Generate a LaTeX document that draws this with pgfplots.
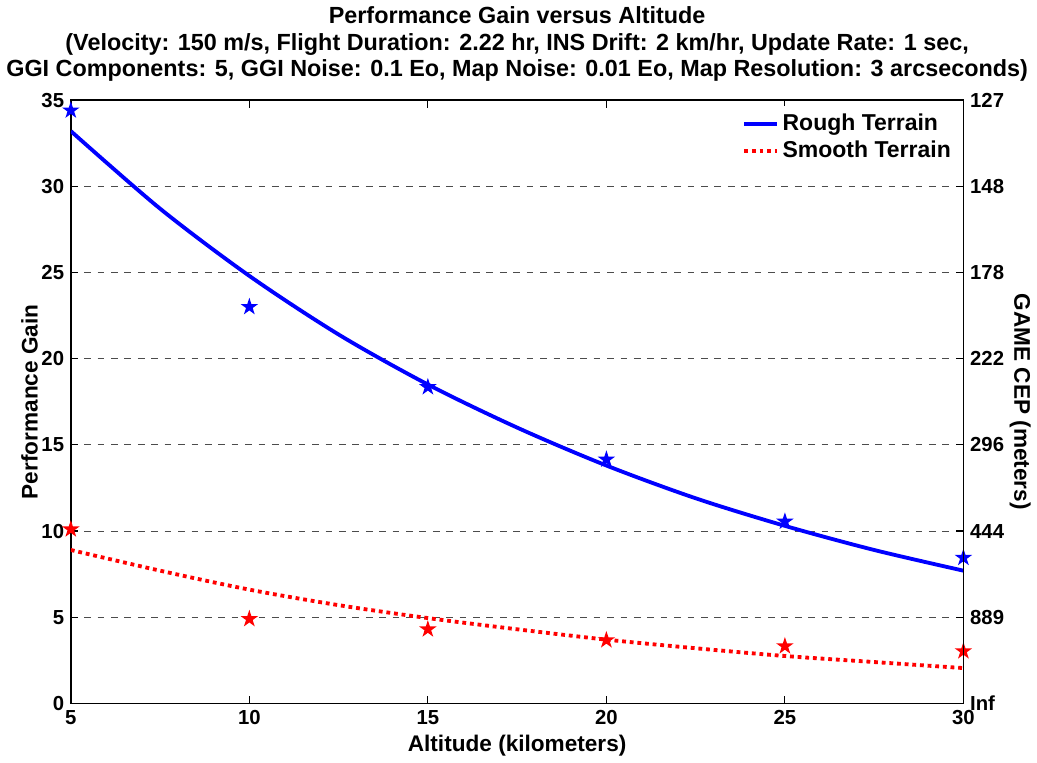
\documentclass[border=0pt]{standalone}
\usepackage{fontspec}
\setmainfont{Liberation Sans}
\usepackage{pgfplots}
\pgfplotsset{compat=1.18}

% filled five-pointed star, like MATLAB's 'p' marker
\pgfdeclareplotmark{pentagram}{%
  \pgfpathmoveto{\pgfpointpolar{90}{\pgfplotmarksize}}%
  \pgfpathlineto{\pgfpointpolar{126}{0.382\pgfplotmarksize}}%
  \pgfpathlineto{\pgfpointpolar{162}{\pgfplotmarksize}}%
  \pgfpathlineto{\pgfpointpolar{198}{0.382\pgfplotmarksize}}%
  \pgfpathlineto{\pgfpointpolar{234}{\pgfplotmarksize}}%
  \pgfpathlineto{\pgfpointpolar{270}{0.382\pgfplotmarksize}}%
  \pgfpathlineto{\pgfpointpolar{306}{\pgfplotmarksize}}%
  \pgfpathlineto{\pgfpointpolar{342}{0.382\pgfplotmarksize}}%
  \pgfpathlineto{\pgfpointpolar{18}{\pgfplotmarksize}}%
  \pgfpathlineto{\pgfpointpolar{54}{0.382\pgfplotmarksize}}%
  \pgfpathclose
  \pgfusepathqfill}

\pgfplotsset{
  matlab/.style={
    scale only axis, width=466pt, height=315pt,
    xmin=5, xmax=30, ymin=0, ymax=35,
    tick align=inside, major tick length=4pt,
    axis line style={line width=0.9pt},
    every tick/.style={black, line width=0.6pt},
    tick label style={font=\fontsize{10.6}{12}\selectfont\bfseries},
    /pgf/number format/assume math mode=true,
    label style={font=\fontsize{11.8}{13}\selectfont\bfseries},
  }
}

\begin{document}
\begin{tikzpicture}
\begin{axis}[matlab,
  xtick={5,10,...,30}, ytick={0,5,...,35}, ytick pos=left,
  ymajorgrids, grid style={black!70, line width=0.5pt, dash pattern=on 3.5pt off 3.5pt},
  xlabel={Altitude (kilometers)}, ylabel={Performance Gain},
  xlabel style={yshift=1.5pt}, ylabel style={yshift=-5pt},
  title={Performance Gain versus Altitude\\(Velocity: 150 m/s, Flight Duration: 2.22 hr, INS Drift: 2 km/hr, Update Rate: 1 sec,\\GGI Components: 5, GGI Noise: 0.1 Eo, Map Noise: 0.01 Eo, Map Resolution: 3 arcseconds)},
  title style={font=\fontsize{12.2}{14}\selectfont\bfseries, align=center, yshift=0pt},
  legend style={draw=none, fill=white, at={(0.997,0.99)}, anchor=north east,
    font=\fontsize{12}{14}\selectfont\bfseries, row sep=0pt},
  legend cell align=left,
  legend image code/.code={\draw[#1] (0pt,0pt) -- (17pt,0pt);},
]
\addplot[blue, line width=2pt, smooth] coordinates {
  (5,33.2) (7.5,28.7) (10,24.8) (12.5,21.4) (15,18.5) (17.5,16.0)
  (20,13.8) (22.5,11.9) (25,10.3) (27.5,8.9) (30,7.7)};
\addlegendentry{Rough Terrain}
\addplot[red, line width=2pt, dash pattern=on 2pt off 2pt, smooth] coordinates {
  (5,8.9) (7.5,7.7) (10,6.6) (12.5,5.7) (15,4.95) (17.5,4.3)
  (20,3.7) (22.5,3.2) (25,2.75) (27.5,2.4) (30,2.05)};
\addlegendentry{Smooth Terrain}
\addplot[only marks, mark=pentagram, mark size=4.8pt, blue, forget plot] coordinates {
  (5,34.4) (10,23.0) (15,18.35) (20,14.15) (25,10.55) (30,8.45)};
\addplot[only marks, mark=pentagram, mark size=4.8pt, red, forget plot] coordinates {
  (5,10.1) (10,4.9) (15,4.3) (20,3.67) (25,3.32) (30,3.03)};
\end{axis}
\begin{axis}[matlab,
  axis x line=none, axis y line*=right,
  ytick={0,5,...,35},
  yticklabels={Inf,889,444,296,222,178,148,127},
  ylabel={GAME CEP (meters)},
  ylabel style={rotate=180, yshift=-4pt},
]
\addplot[draw=none, forget plot] coordinates {(5,0) (30,35)};
\end{axis}
\end{tikzpicture}
\end{document}
